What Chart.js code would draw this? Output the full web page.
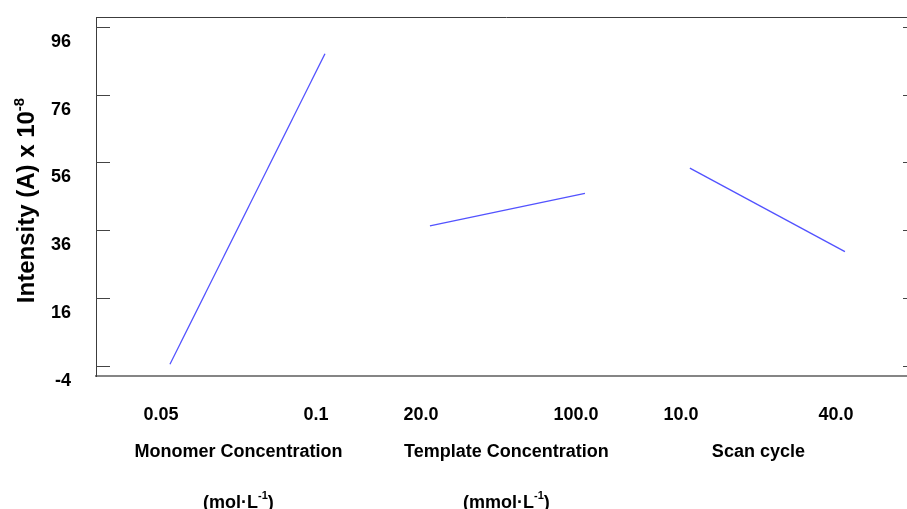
<!DOCTYPE html>
<html>
<head>
<meta charset="utf-8">
<script src="https://cdn.jsdelivr.net/npm/chart.js@4.4.1/dist/chart.umd.min.js"></script>
<style>
  html, body { margin: 0; padding: 0; background: #fff; width: 907px; height: 509px; overflow: hidden; }
  canvas { display: block; }
</style>
</head>
<body>
<canvas id="c" width="921" height="509"></canvas>
<script>
// Main effects of the three factors on peak current
const factorNames = ['Monomer Concentration', 'Template Concentration', 'Scan cycle'];
const factorUnitBase = ['(mol·L', '(mmol·L', null];
const factorUnitExp = ['-1', '-1', null];
const levelLabels = [['0.05', '0.1'], ['20.0', '100.0'], ['10.0', '40.0']];
const monomerMeans = [-3.5, 88.0];
const templateMeans = [37.3, 46.9];
const scanMeans = [54.3, 29.7];
const yTickValues = [-4, 16, 36, 56, 76, 96];

const seriesMeans = [monomerMeans, templateMeans, scanMeans];
const PANEL_STEP = 1.677;             // horizontal distance between factor panels
const pos = (panel, level) => panel * PANEL_STEP + level;
const xTickValues = [];
const xTickText = [];
levelLabels.forEach((lv, i) => lv.forEach((t, j) => { xTickValues.push(pos(i, j)); xTickText.push(t); }));

const LINE_COLOR = '#5252ff';
const FONT = '"Liberation Sans", Arial, sans-serif';

const datasets = seriesMeans.map((means, i) => ({
  label: factorNames[i],
  data: means.map((v, j) => ({ x: pos(i, j), y: v })),
  borderColor: LINE_COLOR,
  borderWidth: 1.3,
  pointRadius: 0,
  tension: 0,
  fill: false
}));

const framePlugin = {
  id: 'frameAndLabels',
  afterDraw(chart) {
    const { ctx, chartArea: a, scales: { x, y } } = chart;
    ctx.save();
    // top and right frame
    ctx.strokeStyle = '#3c3c3c';
    ctx.lineWidth = 1;
    ctx.beginPath();
    ctx.moveTo(a.left, a.top + 0.5);
    ctx.lineTo(a.right, a.top + 0.5);
    ctx.moveTo(a.right - 0.5, a.top);
    ctx.lineTo(a.right - 0.5, a.bottom);
    ctx.stroke();
    // inward tick marks on both vertical sides
    ctx.strokeStyle = '#444';
    ctx.beginPath();
    y.ticks.forEach(t => {
      const py = Math.round(y.getPixelForValue(t.value)) + 0.5;
      ctx.moveTo(a.left, py); ctx.lineTo(a.left + 14, py);
      ctx.moveTo(a.right - 14, py); ctx.lineTo(a.right, py);
    });
    ctx.stroke();

    // factor names and units under the level labels
    ctx.fillStyle = '#000';
    ctx.textBaseline = 'middle';
    factorNames.forEach((name, i) => {
      const cx = (x.getPixelForValue(pos(i, 0)) + x.getPixelForValue(pos(i, 1))) / 2 - 9 + (i === 1 ? 8 : 0);
      ctx.font = 'bold 18px ' + FONT;
      ctx.textAlign = 'center';
      ctx.fillText(name, cx, a.bottom + 76);
      if (factorUnitBase[i]) {
        const base = factorUnitBase[i], sup = factorUnitExp[i], close = ')';
        ctx.font = 'bold 18px ' + FONT;
        const wb = ctx.measureText(base).width, wc = ctx.measureText(close).width;
        ctx.font = 'bold 11px ' + FONT;
        const ws = ctx.measureText(sup).width;
        let sx = cx - (wb + ws + wc) / 2;
        const by = a.bottom + 127;
        ctx.textAlign = 'left';
        ctx.font = 'bold 18px ' + FONT;
        ctx.fillText(base, sx, by);
        ctx.font = 'bold 11px ' + FONT;
        ctx.fillText(sup, sx + wb, by - 7);
        ctx.font = 'bold 18px ' + FONT;
        ctx.fillText(close, sx + wb + ws, by);
      }
    });

    // rotated y axis title with superscript exponent
    const main = 'Intensity (A) x 10', exp = '-8';
    ctx.font = 'bold 24px ' + FONT;
    const wm = ctx.measureText(main).width;
    ctx.font = 'bold 15px ' + FONT;
    const we = ctx.measureText(exp).width;
    ctx.translate(34, (a.top + a.bottom) / 2 + 4);
    ctx.rotate(-Math.PI / 2);
    ctx.textAlign = 'left';
    ctx.textBaseline = 'alphabetic';
    const start = -(wm + we) / 2;
    ctx.font = 'bold 24px ' + FONT;
    ctx.fillText(main, start, 0);
    ctx.font = 'bold 15px ' + FONT;
    ctx.fillText(exp, start + wm, -10);
    ctx.restore();
  }
};

new Chart(document.getElementById('c'), {
  type: 'line',
  data: { datasets },
  plugins: [framePlugin],
  options: {
    responsive: false,
    animation: false,
    devicePixelRatio: 1,
    layout: { padding: { top: 17, left: 0, right: 4, bottom: 0 } },
    plugins: { legend: { display: false }, tooltip: { enabled: false } },
    scales: {
      x: {
        type: 'linear',
        min: -0.477,
        max: 4.819,
        afterBuildTicks: s => { s.ticks = xTickValues.map(v => ({ value: v })); },
        afterFit: s => { s.height = 133; s.paddingLeft = 0; s.paddingRight = 0; },
        ticks: {
          autoSkip: false,
          maxRotation: 0,
          padding: 28,
          labelOffset: -9,
          color: '#000',
          font: { family: FONT, size: 18, weight: 'bold' },
          callback: (v, i) => xTickText[i]
        },
        grid: { display: false, drawTicks: false },
        border: { display: true, color: '#858585', width: 2 }
      },
      y: {
        type: 'linear',
        min: -6.95,
        max: 98.85,
        afterBuildTicks: s => { s.ticks = yTickValues.map(v => ({ value: v })); },
        afterFit: s => { s.width = 96; s.paddingTop = 0; s.paddingBottom = 0; },
        ticks: {
          padding: 25,
          labelOffset: 15,
          color: '#000',
          font: { family: FONT, size: 18, weight: 'bold' },
          callback: v => String(v)
        },
        grid: { display: false, drawTicks: false },
        border: { display: true, color: '#3c3c3c', width: 1 }
      }
    }
  }
});
</script>
</body>
</html>
